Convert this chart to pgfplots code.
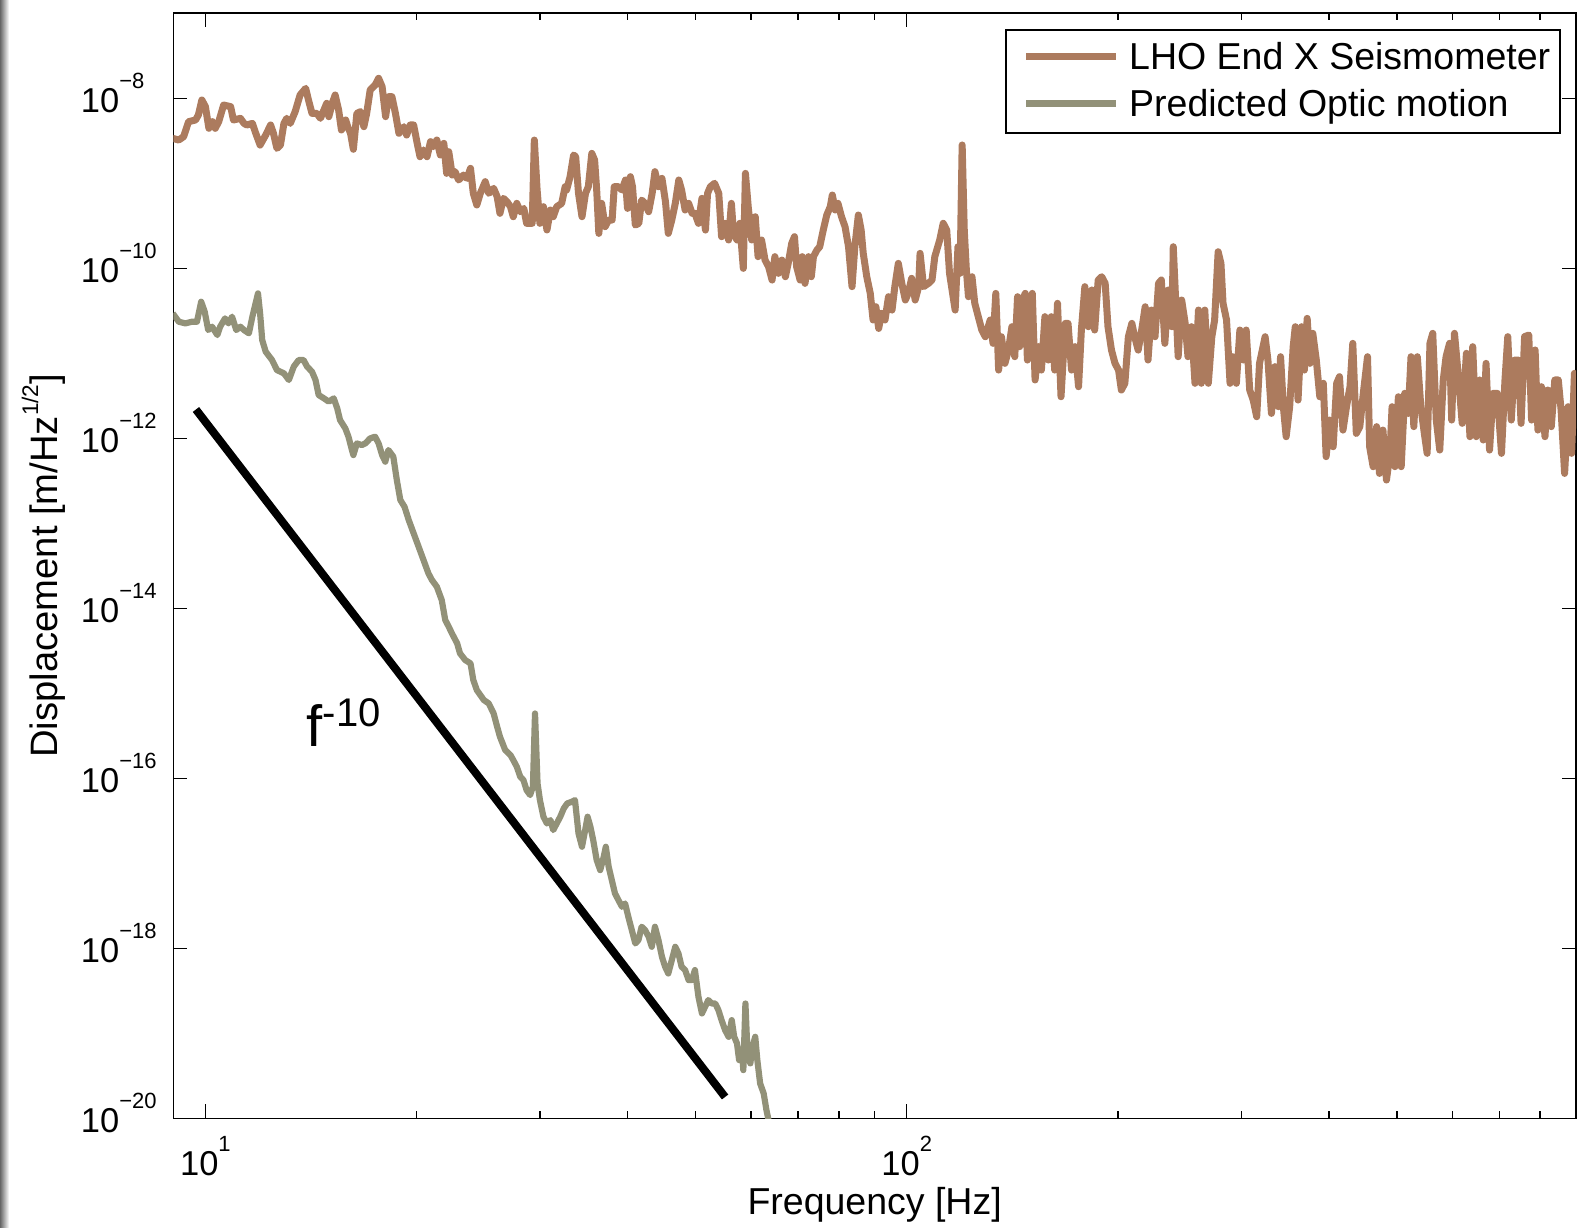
\documentclass[border=0pt]{standalone}
\usepackage{fontspec}
\setmainfont{Liberation Sans}
\usepackage{pgfplots}
\usepackage{pgfplotstable}
\pgfplotsset{compat=1.18}
\usetikzlibrary{calc}

\definecolor{seis}{RGB}{172,123,94}
\definecolor{optic}{RGB}{146,145,120}

% 10^n tick label in the text font (minus sign U+2212)
\newcommand\logticklabel[1]{%
  \pgfmathtruncatemacro\tickexp{round(#1)}%
  10\raisebox{12pt}{\fontsize{11}{11}\selectfont\ifnum\tickexp<0 \char8722\relax\number-\tickexp\else\tickexp\fi}}

% columns: log10 of frequency [Hz], log10 of displacement [m/Hz^1/2]
\pgfplotstableread{
lf ld
0.9534 -8.471
0.962 -8.491
0.969 -8.451
0.976 -8.275
0.986 -8.255
0.990 -8.196
0.995 -8.020
1.000 -8.098
1.005 -8.353
1.010 -8.275
1.014 -8.353
1.019 -8.275
1.026 -8.079
1.036 -8.098
1.040 -8.255
1.050 -8.236
1.055 -8.295
1.059 -8.314
1.067 -8.295
1.071 -8.393
1.078 -8.550
1.086 -8.432
1.093 -8.314
1.097 -8.412
1.102 -8.589
1.107 -8.550
1.112 -8.295
1.116 -8.236
1.121 -8.295
1.128 -8.157
1.135 -7.961
1.143 -7.883
1.147 -8.020
1.152 -8.177
1.159 -8.177
1.164 -8.236
1.169 -8.138
1.173 -8.059
1.176 -8.216
1.181 -8.059
1.185 -7.961
1.190 -8.138
1.194 -8.373
1.200 -8.255
1.203 -8.334
1.207 -8.412
1.211 -8.600
1.216 -8.177
1.221 -8.157
1.226 -8.334
1.230 -8.177
1.235 -7.902
1.242 -7.844
1.247 -7.765
1.252 -7.863
1.257 -8.216
1.261 -7.981
1.266 -7.981
1.271 -8.177
1.276 -8.412
1.283 -8.334
1.287 -8.432
1.292 -8.314
1.297 -8.314
1.302 -8.530
1.306 -8.687
1.311 -8.608
1.316 -8.687
1.321 -8.510
1.325 -8.569
1.330 -8.491
1.335 -8.667
1.340 -8.530
1.344 -8.883
1.347 -8.628
1.352 -8.903
1.356 -8.863
1.361 -8.961
1.368 -8.903
1.373 -8.942
1.378 -8.824
1.382 -9.118
1.387 -9.255
1.392 -9.118
1.399 -8.981
1.404 -9.118
1.411 -9.059
1.416 -9.157
1.420 -9.353
1.425 -9.177
1.430 -9.216
1.435 -9.275
1.439 -9.393
1.444 -9.236
1.449 -9.334
1.454 -9.295
1.458 -9.471
1.466 -9.471
1.469 -8.491
1.473 -9.079
1.477 -9.471
1.482 -9.275
1.487 -9.549
1.492 -9.314
1.496 -9.393
1.501 -9.275
1.508 -9.236
1.513 -9.040
1.515 -9.079
1.520 -8.922
1.525 -8.667
1.528 -8.687
1.532 -9.118
1.537 -9.393
1.542 -9.118
1.546 -9.040
1.551 -8.648
1.555 -8.726
1.558 -9.079
1.561 -9.589
1.565 -9.236
1.570 -9.510
1.575 -9.432
1.580 -9.432
1.583 -9.040
1.589 -9.040
1.594 -9.079
1.599 -8.961
1.602 -9.295
1.606 -8.922
1.609 -9.040
1.613 -9.491
1.618 -9.471
1.622 -9.197
1.627 -9.236
1.632 -9.334
1.637 -9.118
1.641 -8.863
1.646 -9.040
1.651 -8.942
1.656 -9.216
1.660 -9.589
1.665 -9.432
1.670 -9.236
1.675 -8.961
1.679 -9.079
1.684 -9.314
1.689 -9.236
1.694 -9.353
1.698 -9.353
1.703 -9.471
1.708 -9.177
1.713 -9.550
1.716 -9.118
1.720 -9.040
1.726 -9.000
1.732 -9.118
1.736 -9.628
1.741 -9.471
1.746 -9.667
1.750 -9.236
1.753 -9.589
1.758 -9.667
1.762 -9.471
1.767 -10.001
1.770 -8.883
1.774 -9.275
1.779 -9.667
1.784 -9.393
1.788 -9.863
1.793 -9.667
1.798 -9.903
1.803 -9.981
1.808 -10.138
1.812 -9.863
1.817 -10.059
1.822 -9.903
1.827 -10.099
1.831 -9.942
1.836 -9.707
1.840 -9.628
1.843 -9.981
1.848 -10.138
1.851 -9.863
1.855 -10.177
1.860 -9.863
1.864 -10.099
1.867 -9.863
1.872 -9.785
1.876 -9.746
1.881 -9.550
1.886 -9.373
1.891 -9.275
1.894 -9.138
1.898 -9.314
1.902 -9.236
1.907 -9.393
1.912 -9.510
1.917 -9.746
1.922 -10.216
1.926 -9.746
1.931 -9.373
1.935 -9.550
1.938 -9.824
1.943 -10.099
1.948 -10.295
1.952 -10.608
1.956 -10.452
1.960 -10.707
1.964 -10.530
1.969 -10.608
1.974 -10.334
1.979 -10.491
1.983 -10.216
1.988 -9.942
1.993 -10.177
1.998 -10.373
2.002 -10.295
2.007 -10.118
2.012 -10.373
2.017 -10.216
2.019 -9.824
2.024 -10.216
2.031 -10.177
2.036 -10.138
2.040 -9.863
2.047 -9.667
2.052 -9.471
2.057 -9.550
2.061 -10.059
2.069 -10.491
2.073 -9.746
2.076 -10.059
2.079 -8.549
2.082 -9.550
2.085 -10.020
2.088 -10.334
2.093 -10.099
2.097 -10.412
2.102 -10.569
2.107 -10.726
2.112 -10.805
2.119 -10.608
2.123 -10.883
2.127 -10.295
2.131 -11.197
2.135 -10.805
2.140 -11.118
2.145 -10.962
2.150 -10.687
2.154 -11.040
2.158 -10.334
2.161 -10.922
2.165 -10.373
2.169 -10.295
2.172 -11.079
2.176 -10.805
2.179 -10.295
2.183 -11.314
2.188 -10.922
2.192 -11.197
2.197 -10.569
2.202 -11.079
2.206 -10.569
2.211 -11.197
2.215 -10.412
2.220 -11.511
2.226 -10.648
2.230 -10.648
2.235 -11.197
2.240 -10.922
2.245 -11.393
2.249 -10.726
2.254 -10.216
2.259 -10.687
2.264 -10.255
2.268 -10.726
2.273 -10.138
2.278 -10.099
2.283 -10.177
2.287 -10.687
2.292 -10.962
2.297 -11.118
2.302 -11.197
2.306 -11.432
2.311 -11.353
2.316 -10.805
2.321 -10.648
2.325 -10.805
2.330 -10.962
2.335 -10.726
2.340 -10.452
2.344 -11.079
2.349 -10.491
2.354 -10.805
2.359 -10.177
2.363 -10.138
2.368 -10.883
2.373 -10.255
2.378 -10.687
2.380 -9.746
2.383 -10.295
2.387 -11.040
2.392 -10.373
2.397 -10.648
2.401 -11.040
2.406 -10.687
2.411 -11.353
2.416 -10.491
2.420 -11.353
2.425 -10.491
2.430 -11.353
2.435 -10.805
2.439 -10.608
2.444 -9.805
2.448 -9.942
2.451 -10.412
2.456 -10.608
2.461 -11.353
2.465 -11.040
2.470 -11.353
2.475 -10.726
2.480 -11.079
2.484 -10.726
2.489 -11.432
2.494 -11.550
2.499 -11.746
2.503 -11.118
2.511 -10.805
2.515 -11.079
2.520 -11.707
2.525 -11.157
2.530 -11.628
2.533 -11.040
2.537 -11.628
2.541 -11.981
2.546 -11.628
2.551 -10.922
2.554 -10.687
2.558 -11.550
2.563 -10.687
2.567 -11.197
2.571 -10.589
2.575 -11.118
2.579 -10.765
2.584 -11.079
2.589 -11.511
2.594 -11.353
2.598 -12.216
2.603 -11.785
2.608 -12.099
2.613 -11.353
2.617 -11.275
2.622 -11.903
2.627 -11.628
2.632 -11.393
2.636 -10.883
2.641 -11.942
2.646 -11.863
2.651 -11.471
2.657 -11.040
2.660 -12.099
2.665 -12.334
2.670 -11.863
2.674 -12.413
2.679 -11.903
2.684 -12.491
2.689 -12.177
2.692 -11.628
2.696 -12.334
2.701 -11.511
2.705 -12.334
2.710 -11.471
2.715 -11.707
2.719 -11.040
2.723 -11.863
2.728 -11.040
2.733 -11.628
2.738 -11.942
2.742 -12.177
2.746 -10.883
2.750 -10.765
2.755 -11.785
2.760 -12.138
2.765 -11.314
2.769 -11.040
2.774 -10.883
2.777 -11.785
2.781 -10.765
2.787 -11.314
2.792 -11.824
2.798 -11.000
2.803 -11.981
2.807 -10.922
2.812 -11.981
2.817 -11.314
2.822 -12.020
2.826 -11.118
2.831 -12.138
2.836 -11.471
2.842 -11.471
2.848 -12.177
2.853 -11.314
2.857 -10.804
2.862 -11.785
2.867 -11.079
2.872 -11.079
2.876 -11.824
2.881 -10.804
2.887 -10.785
2.891 -11.785
2.896 -10.961
2.900 -11.903
2.905 -11.393
2.910 -11.981
2.914 -11.432
2.919 -11.863
2.924 -11.314
2.929 -11.314
2.933 -11.667
2.938 -12.413
2.943 -11.628
2.948 -12.177
2.952 -11.236
2.957 -11.471
}\seismometer

\pgfplotstableread{
lf ld
0.9534 -10.530
0.962 -10.628
0.9715 -10.648
0.981 -10.628
0.988 -10.628
0.994 -10.393
0.999 -10.510
1.004 -10.726
1.0095 -10.687
1.017 -10.785
1.021 -10.687
1.028 -10.589
1.033 -10.648
1.038 -10.569
1.044 -10.726
1.050 -10.687
1.055 -10.726
1.062 -10.765
1.067 -10.569
1.071 -10.432
1.075 -10.295
1.078 -10.530
1.081 -10.844
1.086 -10.981
1.095 -11.079
1.102 -11.197
1.112 -11.236
1.119 -11.314
1.126 -11.157
1.133 -11.079
1.140 -11.079
1.145 -11.157
1.152 -11.216
1.157 -11.314
1.1615 -11.491
1.169 -11.530
1.176 -11.569
1.183 -11.530
1.188 -11.648
1.192 -11.785
1.1995 -11.883
1.204 -11.981
1.209 -12.138
1.211 -12.197
1.216 -12.060
1.223 -12.079
1.228 -12.060
1.235 -12.001
1.242 -11.981
1.247 -12.060
1.252 -12.197
1.2565 -12.275
1.261 -12.138
1.268 -12.216
1.273 -12.491
1.278 -12.726
1.284 -12.805
1.290 -12.962
1.297 -13.118
1.304 -13.275
1.311 -13.432
1.318 -13.589
1.323 -13.667
1.330 -13.746
1.337 -13.903
1.342 -14.138
1.347 -14.217
1.3515 -14.295
1.359 -14.413
1.363 -14.530
1.3705 -14.609
1.378 -14.648
1.382 -14.844
1.387 -14.962
1.397 -15.079
1.404 -15.119
1.411 -15.237
1.416 -15.393
1.420 -15.511
1.4275 -15.668
1.435 -15.727
1.439 -15.786
1.444 -15.864
1.449 -15.982
1.4535 -16.021
1.458 -16.139
1.463 -16.197
1.467 -16.099
1.470 -15.237
1.4736 -16.060
1.477 -16.256
1.482 -16.452
1.487 -16.531
1.492 -16.491
1.496 -16.609
1.501 -16.531
1.506 -16.452
1.511 -16.354
1.516 -16.295
1.5225 -16.276
1.527 -16.256
1.532 -16.648
1.537 -16.805
1.5415 -16.609
1.545 -16.452
1.549 -16.570
1.553 -16.727
1.558 -16.962
1.563 -17.080
1.568 -16.923
1.571 -16.805
1.575 -17.040
1.5795 -17.197
1.584 -17.354
1.589 -17.433
1.594 -17.511
1.5985 -17.472
1.603 -17.629
1.608 -17.786
1.613 -17.943
1.6175 -17.903
1.622 -17.746
1.627 -17.786
1.632 -17.864
1.6365 -17.982
1.641 -17.746
1.646 -17.903
1.651 -18.100
1.6555 -18.217
1.660 -18.296
1.665 -18.139
1.670 -17.982
1.6745 -18.060
1.679 -18.217
1.684 -18.256
1.689 -18.374
1.6935 -18.374
1.698 -18.256
1.703 -18.570
1.708 -18.766
1.7125 -18.688
1.717 -18.609
1.722 -18.649
1.727 -18.649
1.7315 -18.727
1.736 -18.845
1.741 -18.962
1.746 -19.041
1.7505 -18.845
1.754 -19.041
1.758 -19.119
1.761 -19.315
1.765 -19.198
1.767 -19.433
1.770 -18.649
1.773 -19.237
1.777 -19.354
1.780 -19.158
1.784 -19.041
1.787 -19.315
1.791 -19.590
1.796 -19.707
1.800 -19.903
1.803 -20.021
1.8075 -20.178
}\optic

\begin{document}
\begin{tikzpicture}
\begin{axis}[
  xmode=log, ymode=log,
  log basis x=10, log basis y=10,
  scale only axis,
  width=701.35pt, height=552.5pt,
  xmin=9, xmax=900, ymin=1e-20, ymax=1e-7,
  axis line style={line width=0.8pt},
  tick style={black, line width=0.7pt},
  tick align=inside, tick pos=both,
  major tick length=7pt, minor tick length=3.5pt,
  xtick={10,100},
  minor xtick={20,30,40,50,60,70,80,90,200,300,400,500,600,700,800},
  ytick={1e-20,1e-18,1e-16,1e-14,1e-12,1e-10,1e-8},
  yminorticks=false,
  xticklabel={\logticklabel{\tick}},
  yticklabel={\logticklabel{\tick}},
  xticklabel style={anchor=base, inner sep=0pt, yshift=-28.35pt,
    font=\fontsize{17.25}{17.25}\selectfont},
  yticklabel style={anchor=base west, inner sep=0pt, xshift=-46.4pt, yshift=-7.3pt,
    font=\fontsize{17.25}{17.25}\selectfont},
  label style={inner sep=0pt},
  xlabel={Frequency [Hz]},
  ylabel={Displacement [m/Hz\raisebox{0.5em}{\fontsize{11.3}{11.3}\selectfont 1/2}]},
  xlabel style={at={(axis description cs:0.5,-0.0866)}, anchor=base,
    font=\fontsize{18.75}{18.75}\selectfont},
  ylabel style={at={(axis description cs:-0.0827,0.5)}, anchor=base,
    font=\fontsize{19.1}{19.1}\selectfont},
  legend style={at={(axis description cs:0.9893,0.98552)}, anchor=north east,
    draw=black, line width=0.8pt, fill=white,
    inner xsep=5pt, inner ysep=6.4pt, row sep=8.4pt, column sep=5pt,
    font=\fontsize{18.75}{18.75}\selectfont,
    cells={anchor=base west},
    nodes={inner sep=0pt, text height=13.4pt, text depth=0.2pt}},
  legend image code/.code={%
    \path (3.5pt,0pt) (51.65pt,0pt);
    \draw[#1] (6.9pt,6.7pt) -- (51.65pt,6.7pt);},
]
\addplot[seis, line width=3.5pt, line join=round]
  table[x expr={10^(\thisrow{lf})}, y expr={10^(\thisrow{ld})}] {\seismometer};
\addlegendentry{LHO End X Seismometer}
\addplot[optic, line width=3.1pt, line join=round]
  table[x expr={10^(\thisrow{lf})}, y expr={10^(\thisrow{ld})}] {\optic};
\addlegendentry{Predicted Optic motion}
% power-law guide line
\addplot[black, line width=4pt, forget plot]
  coordinates {(9.694,2.183e-12) (55.08,1.782e-20)};
\node[anchor=base west, inner sep=0pt] at (axis cs:13.93,2.355e-16)
  {\fontsize{29}{29}\selectfont f\raisebox{10pt}{\fontsize{20}{20}\selectfont -10}};
\coordinate (bl) at (rel axis cs:0,0);
\coordinate (tr) at (rel axis cs:1,1);
\end{axis}
\pgfresetboundingbox
\path[use as bounding box] ($(bl)+(-86.65pt,-54.85pt)$) rectangle ($(tr)+(0.5pt,6.65pt)$);
\fill[left color=black!60, right color=white]
  ($(bl)+(-86.65pt,-54.85pt)$) rectangle ($(bl)+(-82.15pt,559.15pt)$);
\end{tikzpicture}
\end{document}
